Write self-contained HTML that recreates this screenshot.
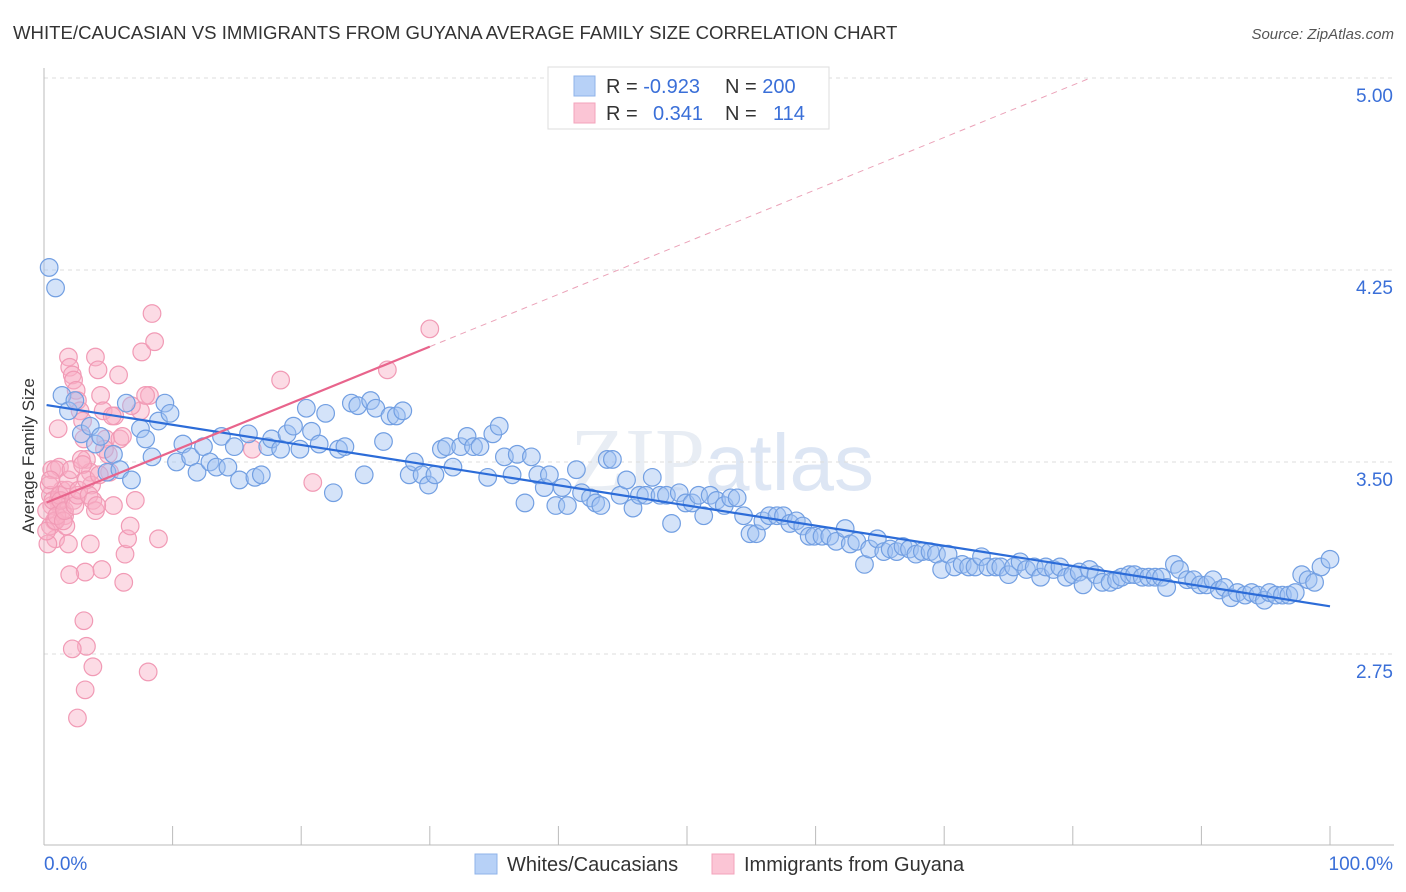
<!DOCTYPE html>
<html><head><meta charset="utf-8"><style>
body{margin:0;background:#fff;font-family:"Liberation Sans",sans-serif}
svg{display:block}
</style></head><body>
<svg id="chart" width="1406" height="892" viewBox="0 0 1406 892">
<text x="13" y="39" font-size="18.6" fill="#333">WHITE/CAUCASIAN VS IMMIGRANTS FROM GUYANA AVERAGE FAMILY SIZE CORRELATION CHART</text>
<text x="1394" y="39" font-size="15" fill="#555" font-style="italic" text-anchor="end">Source: ZipAtlas.com</text>
<text x="722" y="490" font-size="90" fill="#e8edf4" text-anchor="middle" font-family="Liberation Serif,serif">ZIP<tspan fill="#dde6f4" font-family="Liberation Sans,sans-serif" font-size="80">atlas</tspan></text>
<g id="grid"></g>
<g id="axes"></g>
<g id="trend"></g>
<g id="marks"></g>
<text transform="translate(34,456) rotate(-90)" font-size="17" fill="#333" text-anchor="middle">Average Family Size</text>
<g>
<rect x="548" y="67" width="281" height="62" fill="#fff" stroke="#ddd"/>
<rect x="574" y="76" width="21" height="20" fill="#b7d1f7" stroke="#8fb3ea"/>
<rect x="574" y="103" width="21" height="20" fill="#fbc5d5" stroke="#f3a3bb"/>
<text x="606" y="93" font-size="20" fill="#333">R = <tspan fill="#3a6fd8">-0.923</tspan><tspan x="725">N = </tspan><tspan fill="#3a6fd8">200</tspan></text>
<text x="606" y="120" font-size="20" fill="#333">R = <tspan x="653" fill="#3a6fd8">0.341</tspan><tspan x="725">N = </tspan><tspan x="773" fill="#3a6fd8">114</tspan></text>
</g>
<g>
<rect x="475" y="854" width="22" height="20" fill="#b7d1f7" stroke="#8fb3ea"/>
<text x="507" y="871" font-size="20" fill="#333">Whites/Caucasians</text>
<rect x="712" y="854" width="22" height="20" fill="#fbc5d5" stroke="#f3a3bb"/>
<text x="744" y="871" font-size="20" fill="#333">Immigrants from Guyana</text>
</g>
</svg>
<script>
const yTicks=[5.00,4.25,3.50,2.75];
const xTickLabels=["0.0%","100.0%"];
const blueX=[0.4,0.9,1.4,1.9,2.4,2.9,3.6,4.0,4.4,4.9,5.4,5.9,6.4,6.8,7.5,7.9,8.4,8.9,9.4,9.8,10.3,10.8,11.4,11.9,12.4,12.9,13.4,13.8,14.3,14.8,15.2,15.9,16.4,16.9,17.4,17.7,18.4,18.9,19.4,19.9,20.4,20.8,21.4,21.9,22.5,22.9,23.4,23.9,24.4,24.9,25.4,25.8,26.4,26.9,27.4,27.9,28.4,28.8,29.4,29.9,30.4,30.9,31.3,31.8,32.4,32.9,33.4,33.9,34.5,34.9,35.4,35.8,36.4,36.8,37.4,37.9,38.4,38.9,39.3,39.8,40.3,40.7,41.4,41.8,42.5,42.9,43.3,43.8,44.2,44.8,45.3,45.8,46.3,46.8,47.3,47.9,48.4,48.8,49.4,49.9,50.4,50.9,51.3,51.8,52.3,52.9,53.4,53.9,54.4,54.9,55.4,55.9,56.4,57.0,57.5,58.0,58.5,59.0,59.5,59.9,60.5,61.1,61.6,62.3,62.7,63.2,63.8,64.2,64.8,65.3,65.8,66.3,66.8,67.3,67.8,68.3,68.9,69.4,69.8,70.3,70.8,71.4,71.9,72.4,72.9,73.4,74.0,74.4,75.0,75.4,75.9,76.4,77.0,77.5,77.9,78.5,79.0,79.5,80.0,80.5,80.8,81.3,81.8,82.3,82.9,83.4,83.8,84.4,84.8,85.4,85.9,86.4,86.9,87.3,87.9,88.3,88.9,89.4,89.9,90.4,90.9,91.4,91.8,92.3,92.8,93.4,93.9,94.4,94.9,95.3,95.8,96.3,96.8,97.3,97.8,98.3,98.8,99.3,100];
const blueY=[4.26,4.18,3.76,3.70,3.74,3.61,3.64,3.57,3.60,3.46,3.53,3.47,3.73,3.43,3.63,3.59,3.52,3.66,3.73,3.69,3.50,3.57,3.52,3.46,3.56,3.50,3.48,3.60,3.48,3.56,3.43,3.61,3.44,3.45,3.56,3.59,3.55,3.61,3.64,3.55,3.71,3.62,3.57,3.69,3.38,3.55,3.56,3.73,3.72,3.45,3.74,3.71,3.58,3.68,3.68,3.70,3.45,3.50,3.45,3.41,3.45,3.55,3.56,3.48,3.56,3.60,3.56,3.56,3.44,3.61,3.64,3.52,3.45,3.53,3.34,3.52,3.45,3.40,3.45,3.33,3.40,3.33,3.47,3.38,3.36,3.34,3.33,3.51,3.51,3.37,3.43,3.32,3.37,3.37,3.44,3.37,3.37,3.26,3.38,3.34,3.34,3.37,3.29,3.37,3.35,3.33,3.36,3.36,3.29,3.22,3.22,3.27,3.29,3.29,3.29,3.26,3.27,3.25,3.21,3.21,3.21,3.21,3.19,3.24,3.18,3.19,3.10,3.16,3.20,3.15,3.16,3.15,3.17,3.16,3.14,3.15,3.15,3.14,3.08,3.14,3.09,3.10,3.09,3.09,3.13,3.09,3.09,3.09,3.06,3.09,3.11,3.08,3.09,3.05,3.09,3.08,3.09,3.05,3.06,3.07,3.02,3.08,3.06,3.03,3.03,3.04,3.05,3.06,3.06,3.05,3.05,3.05,3.05,3.01,3.10,3.08,3.04,3.04,3.02,3.02,3.04,3.00,3.01,2.97,2.99,2.98,2.99,2.98,2.96,2.99,2.98,2.98,2.98,2.99,3.06,3.04,3.03,3.09,3.12];
const pinkX=[0.5,0.6,0.8,0.9,1.1,1.2,1.4,1.6,1.7,1.9,2.0,2.2,2.3,2.5,2.6,2.8,3.0,3.1,3.3,3.6,3.7,4.0,4.2,4.4,4.6,4.8,5.0,5.1,5.4,5.5,5.8,5.9,6.3,6.5,6.7,7.1,7.5,7.6,8.2,8.4,8.6,8.9,8.1,6.2,4.5,3.2,3.1,3.3,3.8,3.2,2.6,2.2,2.0,1.9,1.4,1.2,1.1,0.9,0.6,0.5,0.3,0.2,0.2,0.4,0.5,0.7,0.9,1.0,1.2,1.3,1.5,1.6,1.8,1.9,2.1,2.3,2.4,2.6,2.7,2.9,3.0,3.3,3.5,3.8,4.0,4.1,4.3,4.7,5.3,6.1,6.8,7.9,18.4,20.9,16.2,26.7,30.0,3.6];
const pinkY=[3.37,3.47,3.27,3.20,3.35,3.33,3.31,3.29,3.25,3.91,3.87,3.84,3.82,3.78,3.74,3.70,3.66,3.59,3.51,3.46,3.41,3.91,3.86,3.76,3.70,3.59,3.53,3.46,3.33,3.68,3.84,3.59,3.14,3.20,3.25,3.35,3.70,3.93,3.76,4.08,3.97,3.20,2.68,3.03,3.08,3.07,2.88,2.78,2.70,2.61,2.50,2.77,3.06,3.18,3.39,3.48,3.63,3.47,3.33,3.25,3.18,3.23,3.31,3.41,3.43,3.35,3.27,3.29,3.37,3.35,3.27,3.31,3.39,3.43,3.47,3.35,3.33,3.37,3.39,3.51,3.49,3.43,3.37,3.35,3.31,3.33,3.45,3.55,3.68,3.60,3.72,3.76,3.82,3.42,3.55,3.86,4.02,3.18];
const X0=44,X1=1330,Y5=78;
const sx=v=>X0+(X1-X0)*v/100;
const sy=v=>Y5+(5-v)*256;
const NS="http://www.w3.org/2000/svg";
function mk(tag,attrs,parent){const e=document.createElementNS(NS,tag);for(const k in attrs)e.setAttribute(k,attrs[k]);parent.appendChild(e);return e;}
const grid=document.getElementById('grid'),axes=document.getElementById('axes'),marks=document.getElementById('marks'),trend=document.getElementById('trend');
yTicks.forEach(t=>{
 const l=mk('line',{x1:44,x2:1394,y1:sy(t),y2:sy(t),stroke:'#ddd','stroke-dasharray':'4,4'},grid);
 
 
 const tx=mk('text',{x:1393,y:sy(t)+24,'font-size':19,fill:'#3a6fd8','text-anchor':'end'},axes);
 tx.textContent=t.toFixed(2);
 
 
});
mk('line',{x1:44,x2:44,y1:68,y2:845,stroke:'#bbb'},axes);
mk('line',{x1:44,x2:1394,y1:845,y2:845,stroke:'#bbb'},axes);
for(let i=1;i<=10;i++){const t=mk('line',{x1:sx(i*10),x2:sx(i*10),y1:826,y2:845,stroke:'#bbb'},axes);
 
 }
const xl0=mk('text',{x:44,y:870,'font-size':19,fill:'#3a6fd8'},axes);xl0.textContent=xTickLabels[0];


const xl1=mk('text',{x:1393,y:870,'font-size':19,fill:'#3a6fd8','text-anchor':'end'},axes);xl1.textContent=xTickLabels[1];


function fit(xs,ys){const n=xs.length;let mx=0,my=0;for(let i=0;i<n;i++){mx+=xs[i];my+=ys[i];}mx/=n;my/=n;let a=0,b=0;for(let i=0;i<n;i++){a+=(xs[i]-mx)*(ys[i]-my);b+=(xs[i]-mx)**2;}const s=a/b;return x=>my+s*(x-mx);}
pinkX.forEach((x,i)=>{const c=mk('circle',{cx:sx(x),cy:sy(pinkY[i]),r:8.8,fill:'rgba(248,175,198,0.45)',stroke:'#f19ab5','stroke-width':1.2},marks);
 
 });
blueX.forEach((x,i)=>{const c=mk('circle',{cx:sx(x),cy:sy(blueY[i]),r:8.8,fill:'rgba(160,192,242,0.45)',stroke:'#729fe2','stroke-width':1.2},marks);
 
 });
const fb=fit(blueX,blueY),fp=fit(pinkX,pinkY);
const bl=mk('line',{x1:sx(0.2),y1:sy(fb(0.2)),x2:sx(100),y2:sy(fb(100)),stroke:'#2c6cd8','stroke-width':2.2},marks);


let xe=(5-fp(0))/((fp(100)-fp(0))/100);xe=Math.min(100,xe);
const pd=mk('line',{x1:sx(30),y1:sy(fp(30)),x2:sx(xe),y2:sy(fp(xe)),stroke:'#eba2b8','stroke-width':1,'stroke-dasharray':'6,5'},trend);


const pl=mk('line',{x1:sx(0.2),y1:sy(fp(0.2)),x2:sx(30),y2:sy(fp(30)),stroke:'#e8648c','stroke-width':2.2},marks);


</script>
</body></html>
